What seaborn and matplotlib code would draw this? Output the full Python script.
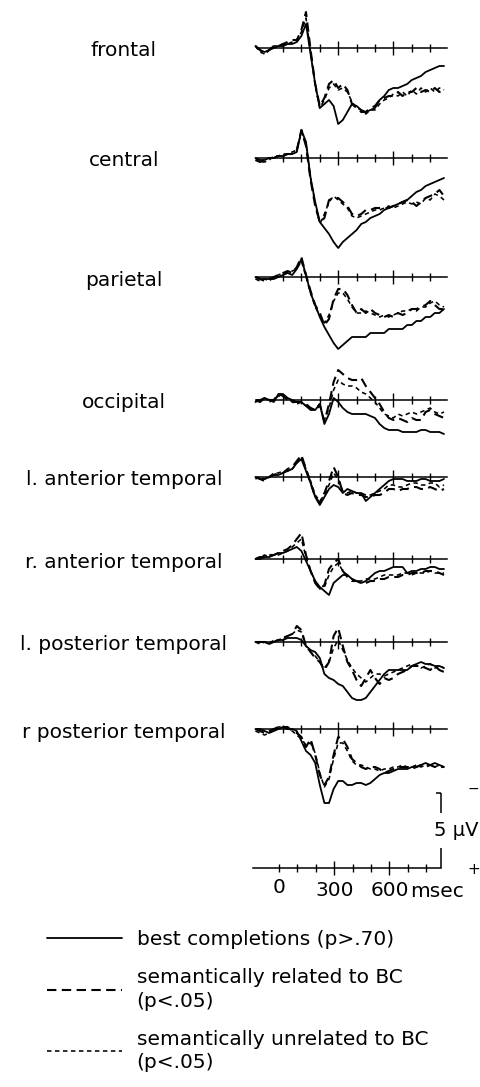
import numpy as np
import pandas as pd
import matplotlib
matplotlib.use("Agg")
import matplotlib.pyplot as plt
from matplotlib.lines import Line2D
import seaborn as sns

sns.set_theme(style="white")
plt.rcParams["font.family"] = ["DejaVu Sans"]
plt.rcParams["text.color"] = "black"
plt.rcParams["xtick.color"] = "black"
plt.rcParams["axes.labelcolor"] = "black"

# ---------------- data (amplitudes in microvolts, positive plotted downward) ----------------
time_ms = [-150, -125, -100, -75, -50, -25, 0, 25, 50, 75, 100, 125, 150, 175, 200, 225,
           250, 275, 300, 325, 350, 375, 400, 425, 450, 475, 500, 525, 550, 575, 600, 625,
           650, 675, 700, 725, 750, 775, 800, 825, 850, 875]

regions = ["frontal", "central", "parietal", "occipital", "l. anterior temporal",
           "r. anterior temporal", "l. posterior temporal", "r posterior temporal"]
conditions = ["best completions (p>.70)",
              "semantically related to BC\n(p<.05)",
              "semantically unrelated to BC\n(p<.05)"]

frontal_best = [-0.5, 0.5, 1, 0.5, 0, -0.5, -0.5, -1, -1, -1.5, -3, -6, 1.5, 9, 15, 14, 13, 14.5, 19, 18, 16, 14, 14.5, 15.5, 16, 15.5, 15, 13, 12, 10.5, 10, 10, 9.5, 9, 8, 7.5, 7, 6, 5.5, 5, 4.5, 4.5]
frontal_related = [-0.5, 0.5, 1.5, 0.5, -0.5, -0.5, -1, -1.5, -2, -2, -4.5, -9, 0.5, 9, 14.5, 12.5, 9, 8, 10, 9, 10.5, 14, 15, 16, 16, 15, 14.5, 13, 12.5, 12, 12, 11, 12, 11, 11, 10, 11, 10.5, 11, 10, 11, 10.5]
frontal_unrelated = [-0.5, 1, 1.5, 0.5, -0.5, -0.5, -1, -1, -1.5, -2, -4, -7.5, 1, 9.5, 15, 13, 10, 9, 10.5, 10, 11, 13.5, 15, 15.5, 16.5, 15.5, 15.5, 14, 13, 12.5, 11.5, 12, 11, 12, 10.5, 11.5, 10, 11, 10, 11, 10, 10.5]

central_best = [0, 0.5, 0.5, 0, 0, -0.5, -0.5, -1, -1, -1.5, -7, -4, 5, 11, 16, 17.5, 19, 21, 22.5, 21, 20, 19, 18, 16.5, 16, 15, 14.5, 14, 13, 12.5, 12, 11.5, 11, 10.5, 9.5, 8.5, 8, 7, 6.5, 6, 5.5, 5]
central_related = [0.5, 1, 0.5, 0, 0, -0.5, -0.5, -1, -1, -2, -7, -3, 5.5, 12, 16, 15, 10.5, 10, 10, 11, 12, 14, 14.5, 14, 13, 13, 12.5, 12.5, 12.5, 12.5, 12, 11.5, 11, 10.5, 11, 12, 11, 10, 9.5, 9, 8, 9.5]
central_unrelated = [0, 1, 1, 0.5, -0.5, -0.5, -1, -1, -1.5, -2, -6.5, -3.5, 5, 11.5, 16.5, 14, 11, 9.5, 10.5, 11.5, 12.5, 14.5, 15, 14.5, 14, 13.5, 13, 13, 12.5, 12, 12.5, 12, 11.5, 11, 11.5, 11, 11.5, 10, 10.5, 9, 9.5, 10.5]

parietal_best = [0, 0.5, 0.5, 0.5, 0.5, 0, -0.5, -1, -0.5, -2, -4.5, -0.5, 4, 7, 10, 12.5, 14.5, 16.5, 18, 17, 16, 15, 15, 15, 15, 14, 14, 14, 14, 13, 13, 13, 13, 12, 12, 11, 11, 10, 10, 9, 9, 8]
parietal_related = [0, 0.5, 1, 0.5, 0, -0.5, -1, -1.5, -1, -2.5, -5, -0.5, 3.5, 7, 9, 12, 10.5, 5.5, 3, 3, 4.5, 7, 9, 8, 9, 8, 9, 9.5, 10, 9.5, 10, 9, 9.5, 9, 8, 8, 7.5, 7, 6, 7, 8, 8]
parietal_unrelated = [0.5, 1, 0.5, 1, 0, -0.5, -1, -1, -1.5, -2, -4, 0, 4, 7.5, 9.5, 11.5, 9.5, 6, 4, 4, 5.5, 7.5, 9, 9, 8.5, 9, 9.5, 10, 9.5, 10, 9.5, 9, 8.5, 8.5, 8, 8.5, 7.5, 7.5, 6.5, 6, 7, 7.5]

occipital_best = [0.5, 0, -0.5, 0, 0.5, -1.5, -1.5, -0.5, 0, 0.5, 0.5, 1.5, 2.5, 2.5, 1, 6, 3.5, -0.5, 0.5, 2, 3, 3.5, 3.5, 3.5, 3.5, 4, 4.5, 6, 7, 7.5, 7.5, 7.5, 8, 8, 8, 8, 7.5, 7.5, 8, 8, 8, 8.5]
occipital_related = [0, 0.5, -0.5, 0, 0, -1.5, -1, 0, 0.5, 0.5, 0.5, 1, 2, 2.5, 1, 5.5, 1, -4.5, -7.5, -6.5, -5.5, -5, -5, -5.5, -3.5, -2, -0.5, 1, 3, 4.5, 5, 4.5, 5, 5.5, 4.5, 5, 5, 3, 2.5, 3.5, 4, 4.5]
occipital_unrelated = [0, 0, -0.5, 0.5, 0, -1, -1, -0.5, 0.5, 1, 0.5, 1.5, 2, 2.5, 1.5, 5, 2, -2.5, -5, -4, -3.5, -3.5, -3, -2, -1.5, -0.5, 0.5, 2, 3.5, 4, 4.5, 3.5, 4, 3.5, 3, 3.5, 3, 2.5, 2, 3, 3.5, 3]

lant_best = [0, 0.5, 0.5, 0, -0.5, -0.5, -1, -1.5, -2, -3.5, -4.5, -1.5, 1.5, 5, 7, 5, 3, 2, 2.5, 4, 3, 3.5, 4, 4, 6, 5, 4, 3, 2, 1, 0.5, 0.5, 0.5, 1, 1, 1, 0.5, 0.5, 1, 1, 1, 0.5]
lant_related = [0, 0.5, 1, 0, -0.5, -1, -1, -2, -2.5, -4, -5.5, -2, 1.5, 5, 6.5, 4, 1, -2.5, 0, 4, 4.5, 4, 4.5, 4.5, 5, 5, 4.5, 4.5, 4, 3, 3, 3.5, 3, 3, 2.5, 2.5, 3, 3, 2.5, 3, 3.5, 3]
lant_unrelated = [0.5, 0, 0.5, 0, -1, -1, -1.5, -1.5, -2, -3.5, -5, -2, 1, 4.5, 6, 4.5, 2, -1, 0.5, 3.5, 4, 3.5, 4, 4, 4.5, 4.5, 4, 3.5, 3, 2, 2, 2.5, 2.5, 2, 1.5, 1.5, 2, 2, 1.5, 1.5, 2.5, 2]

rant_best = [0, 0, -0.5, -0.5, -1, -1.5, -1.5, -2, -2.5, -3, -2, 0.5, 3, 5.5, 7, 8, 9, 6, 5, 4, 4, 5, 5.5, 6, 5.5, 4.5, 3.5, 3, 3, 2.5, 2, 2, 2, 3.5, 3, 3, 2.5, 2.5, 2, 2, 2.5, 2.5]
rant_related = [0, -0.5, -0.5, -1, -1, -1.5, -2, -2.5, -3.5, -5, -6.5, -1, 3, 6, 7.5, 6.5, 2.5, 1, 0, 3, 4.5, 5.5, 5.5, 6, 6, 5.5, 5.5, 5, 5, 4.5, 4.5, 4.5, 4, 4, 3.5, 3.5, 3.5, 3, 3, 3, 3.5, 4]
rant_unrelated = [0, -0.5, -1, -0.5, -1, -1, -1.5, -2, -3, -4, -5, -0.5, 3, 5.5, 7.5, 7, 4, 2, 1, 3, 4, 5, 5.5, 5.5, 5, 5, 5, 4.5, 4, 4, 4, 4, 3.5, 3.5, 4, 3.5, 3.5, 3.5, 3, 3.5, 3.5, 3.5]

lpost_best = [0, 0, 0, 0.5, 0, -0.5, -0.5, -1, -1, -1, -0.5, 1, 2, 2.5, 4, 8, 9, 9.5, 10.5, 11, 12.5, 14, 14.5, 14.5, 14, 12.5, 11, 9.5, 8, 7, 7, 7, 7, 7, 6, 5.5, 5, 5.5, 5.5, 6, 6, 6.5]
lpost_related = [0, 0, 0, 0, 0, -0.5, -1, -1.5, -2, -4, -3, 1, 2.5, 4, 5, 7, 5, -1.5, -3.5, 1, 5, 7, 9.5, 11, 9, 7, 9, 10.5, 9, 9.5, 9, 8, 7.5, 7, 6, 6, 6, 6.5, 7, 6, 7, 7.5]
lpost_unrelated = [0, 0.5, 0, 0.5, -0.5, -0.5, -1, -1.5, -2, -3, -2.5, 1, 2.5, 3.5, 5, 6.5, 5, 1.5, -0.5, 2, 4.5, 6.5, 8, 9, 10, 9, 8, 8, 8.5, 8, 7.5, 7, 6.5, 6, 5.5, 6, 6.5, 6, 5.5, 6.5, 6, 6.5]

rpost_best = [0, 0, 0.5, 1, 0.5, 0, -0.5, 0, 0, 0.5, 3, 5.5, 6.5, 8.5, 14, 18.5, 18.5, 15, 13, 13, 14, 14, 13.5, 13.5, 14, 13.5, 12.5, 11.5, 11, 11, 10.5, 10, 10, 10, 9.5, 9.5, 9, 8.5, 9, 8.5, 9, 9.5]
rpost_related = [0, 0.5, 1, 0.5, 0, -0.5, -0.5, -0.5, 0.5, 1, 2, 4.5, 2.5, 6.5, 11.5, 14, 12, 6.5, 2, 2.5, 4.5, 7.5, 8.5, 9.5, 10, 9.5, 9.5, 10, 11, 10.5, 10, 9.5, 9.5, 9.5, 10, 9.5, 9, 9.5, 9, 9.5, 9.5, 9.5]
rpost_unrelated = [0.5, 1, 1.5, 1, 0, -0.5, -0.5, 0, 0.5, 1.5, 2.5, 4, 3.5, 6, 11, 14.5, 12.5, 7.5, 3.5, 3.5, 5.5, 8, 9, 9, 9.5, 10, 10, 10.5, 10, 10, 9.5, 9.5, 9, 9.5, 9.5, 9, 9.5, 9, 9, 9.5, 9, 9.5]

tick_ms = [0, 100, 200, 300, 400, 500, 600, 700, 800]
major_tick_ms = [300, 600]
axis_tick_labels = {0: "0", 300: "300", 600: "600"}
calib_uv = 5

series = {
    "frontal": (frontal_best, frontal_related, frontal_unrelated),
    "central": (central_best, central_related, central_unrelated),
    "parietal": (parietal_best, parietal_related, parietal_unrelated),
    "occipital": (occipital_best, occipital_related, occipital_unrelated),
    "l. anterior temporal": (lant_best, lant_related, lant_unrelated),
    "r. anterior temporal": (rant_best, rant_related, rant_unrelated),
    "l. posterior temporal": (lpost_best, lpost_related, lpost_unrelated),
    "r posterior temporal": (rpost_best, rpost_related, rpost_unrelated),
}

rows = []
for reg in regions:
    for cond, vals in zip(conditions, series[reg]):
        for t, v in zip(time_ms, vals):
            rows.append({"region": reg, "condition": cond, "time": t, "amp": v})
df = pd.DataFrame(rows)

# ---------------- layout / style ----------------
W, H = 481, 1087
PX_PER_MS = 0.184
PX_PER_UV = 4.0
HALF = 100  # half height of each panel axes (px)
baseline_px = [48, 158, 277, 400, 477, 559, 642, 729]
bottom_axis_px = 868
panel_left_px, panel_zero_px = 250, 283
line_styles = {
    conditions[0]: dict(linestyle="-", linewidth=1.3),
    conditions[1]: dict(linestyle=(0, (4.5, 2.6)), linewidth=1.5),
    conditions[2]: dict(linestyle=(0, (2.8, 2.2)), linewidth=1.15),
}
FS = 14.5
minor_ms = [t for t in tick_ms if t not in major_tick_ms]

fig = plt.figure(figsize=(W / 100, H / 100), dpi=100)


def make_axes(left_px, base_px):
    ax = fig.add_axes([left_px / W, 1 - (base_px + HALF) / H, (W - left_px) / W, 2 * HALF / H])
    ax.patch.set_visible(False)
    return ax


def style_axes(ax, left_px, zero_px, end_ms):
    ax.set_xlim((left_px - zero_px) / PX_PER_MS, (W - zero_px) / PX_PER_MS)
    ax.set_ylim(HALF / PX_PER_UV, -HALF / PX_PER_UV)
    for s in ["top", "right", "left"]:
        ax.spines[s].set_visible(False)
    sp = ax.spines["bottom"]
    sp.set_visible(True)
    sp.set_position(("data", 0))
    sp.set_bounds(-140, end_ms)
    sp.set_color("black")
    sp.set_linewidth(1.1)
    ax.set_yticks([])
    ax.set_xticks(major_tick_ms)
    ax.set_xticks(minor_ms, minor=True)
    ax.tick_params(axis="x", which="both", bottom=True, top=False, direction="inout",
                   color="black", width=1.0, labelbottom=False)
    ax.tick_params(axis="x", which="major", length=10.5)
    ax.tick_params(axis="x", which="minor", length=6)
    ax.set_xlabel("")
    ax.set_ylabel("")
    ax.grid(False)


for reg, base in zip(regions, baseline_px):
    ax = make_axes(panel_left_px, base)
    sub = df[df["region"] == reg]
    for cond in conditions:
        d = sub[sub["condition"] == cond]
        sns.lineplot(data=d, x="time", y="amp", ax=ax, color="black", errorbar=None,
                     legend=False, **line_styles[cond])
    style_axes(ax, panel_left_px, panel_zero_px, 890)
    fig.text(124 / W, 1 - (base + 3) / H, reg, ha="center", va="center", fontsize=FS,
             color="black")

# bottom time axis with calibration bar
axb = make_axes(246, bottom_axis_px)
style_axes(axb, 246, 279, 880)
axb.set_xticks(major_tick_ms, labels=[axis_tick_labels[t] for t in major_tick_ms])
axb.set_xticks(minor_ms, labels=[axis_tick_labels.get(t, "") for t in minor_ms], minor=True)
axb.tick_params(axis="x", which="both", labelbottom=True, labelsize=FS, pad=4)
cal_x = 880
axb.vlines(cal_x, -calib_uv, 0, color="black", linewidth=1.1)
cal_top = -(bottom_axis_px - 793) / PX_PER_UV
axb.vlines(cal_x, cal_top, cal_top + calib_uv, color="black", linewidth=1.1)
axb.hlines(cal_top, cal_x - 25, cal_x, color="black", linewidth=1.1)
fig.text(434 / W, 1 - 831 / H, "5 µV", ha="left", va="center", fontsize=14)
fig.text(473 / W, 1 - 789 / H, "−", ha="center", va="center", fontsize=10)
fig.text(474 / W, 1 - 869 / H, "+", ha="center", va="center", fontsize=11)
fig.text(410 / W, 1 - 897 / H, "msec", ha="left", va="baseline", fontsize=FS)

# legend
handles = [Line2D([], [], color="black", **line_styles[c]) for c in conditions]
leg = fig.legend(handles, conditions, loc="upper left", bbox_to_anchor=(47 / W, 1 - 930 / H),
                 frameon=False, borderpad=0, borderaxespad=0, handlelength=3.7,
                 handletextpad=0.75, labelspacing=0.95, fontsize=FS)
for t in leg.get_texts():
    t.set_linespacing(1.3)
    t.set_color("black")

fig.savefig("out.png", dpi=100)
